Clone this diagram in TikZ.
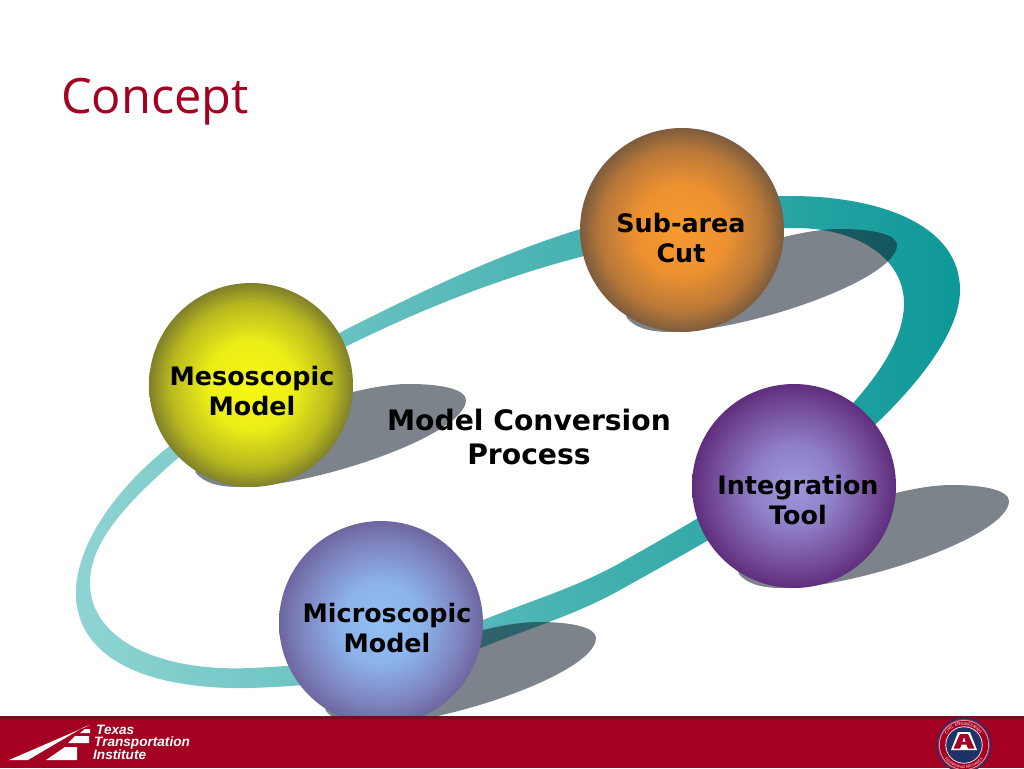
\documentclass[tikz,border=0pt]{standalone}
\usepackage{fontspec}
\setmainfont{DejaVu Sans}
\newfontfamily\titlefont{Open Sans}
\newfontfamily\logofont{Liberation Sans}
\usetikzlibrary{decorations.text}
\definecolor{brandred}{HTML}{A30022}
\definecolor{branddark}{HTML}{7A0A20}
\definecolor{ringlight}{HTML}{8FD4D2}
\definecolor{ringdark}{HTML}{0E9898}
\definecolor{shadowink}{RGB}{20,30,45}
\definecolor{sealnavy}{HTML}{1F3268}
\definecolor{sealpink}{HTML}{E8506A}
\pgfdeclareradialshading{orangeball}{\pgfpoint{0bp}{0bp}}{rgb(0bp)=(0.97,0.60,0.18);rgb(11bp)=(0.93,0.57,0.19);rgb(20bp)=(0.72,0.47,0.22);rgb(25bp)=(0.49,0.36,0.24);rgb(50bp)=(0.49,0.36,0.24)}
\pgfdeclareradialshading{yellowball}{\pgfpoint{0bp}{0bp}}{rgb(0bp)=(0.97,0.97,0.07);rgb(11bp)=(0.92,0.93,0.09);rgb(20bp)=(0.72,0.72,0.12);rgb(25bp)=(0.50,0.50,0.17);rgb(50bp)=(0.50,0.50,0.17)}
\pgfdeclareradialshading{purpleball}{\pgfpoint{0bp}{0bp}}{rgb(0bp)=(0.62,0.60,0.86);rgb(10bp)=(0.56,0.50,0.78);rgb(20bp)=(0.45,0.29,0.59);rgb(25bp)=(0.37,0.18,0.49);rgb(50bp)=(0.37,0.18,0.49)}
\pgfdeclareradialshading{blueball}{\pgfpoint{0bp}{0bp}}{rgb(0bp)=(0.57,0.75,0.96);rgb(10bp)=(0.55,0.70,0.92);rgb(20bp)=(0.49,0.51,0.74);rgb(25bp)=(0.43,0.40,0.63);rgb(50bp)=(0.43,0.40,0.63)}
\tikzset{
  ball/.style={circle,minimum size=204pt,inner sep=0pt},
  balltext/.style={align=center,font=\fontsize{25.4}{30.5}\selectfont\bfseries,text=black},
  castshadow/.style={fill=shadowink,fill opacity=.55},
  logotext/.style={anchor=west,inner sep=0pt,text=white,font=\logofont\fontsize{13.6}{15}\selectfont\bfseries\itshape},
}
\newcommand{\castshadowat}[2]{%
  \fill[castshadow,shift={(#1,#2)}] (627,318) .. controls (635,328) and (650,332) .. (670,332)
    .. controls (745,332) and (897,280) .. (897,245)
    .. controls (897,235) and (875,229) .. (840,229)
    .. controls (760,229) and (615,300) .. (627,318) -- cycle;}
\begin{document}
\begin{tikzpicture}[x=1pt,y=-1pt]
\useasboundingbox (0,0) rectangle (1024,768);
\fill[white] (0,0) rectangle (1024,768);
% ring
\shade[even odd rule,left color=ringlight,right color=ringdark]
  (345,330) .. controls (480,262) and (620,196) .. (790,196)
  .. controls (880,196) and (960,225) .. (960,290)
  .. controls (960,340) and (900,405) .. (850,447)
  .. controls (800,490) and (690,551) .. (620,590)
  .. controls (575,615) and (530,628) .. (483,647)
  .. controls (420,672) and (340,685) .. (250,688)
  .. controls (150,690) and (76,660) .. (76,593)
  .. controls (76,545) and (115,490) .. (167,448)
  .. controls (220,405) and (290,360) .. (345,330) -- cycle
  (345,347) .. controls (460,290) and (620,228) .. (795,228)
  .. controls (860,228) and (905,260) .. (904,305)
  .. controls (903,345) and (870,385) .. (845,412)
  .. controls (800,460) and (700,518) .. (620,563)
  .. controls (575,588) and (530,601) .. (483,620)
  .. controls (420,646) and (340,665) .. (250,668)
  .. controls (160,672) and (90,640) .. (90,583)
  .. controls (90,540) and (130,500) .. (178,458)
  .. controls (230,415) and (290,375) .. (345,347) -- cycle;
% shadows
\castshadowat{0}{0}
\castshadowat{-431}{155}
\castshadowat{112}{256}
\castshadowat{-301}{393}
% spheres
\node[ball,shading=orangeball] (subarea) at (682,230) {};
\node[ball,shading=yellowball] (meso) at (251,385) {};
\node[ball,shading=purpleball] (integ) at (794,486) {};
\node[ball,shading=blueball] (micro) at (381,623) {};
\node[balltext] (subareaT) at (681,238) {Sub-area\\Cut};
\node[balltext] (mesoT) at (252,391) {Mesoscopic\\Model};
\node[balltext] (integT) at (798,500) {Integration\\Tool};
\node[balltext] (microT) at (387,628) {Microscopic\\Model};
\node[align=center,font=\fontsize{28.2}{34}\selectfont\bfseries] (centerT) at (529,437) {Model Conversion\\Process};
% title
\node[anchor=west,inner sep=0pt,text=brandred,font=\titlefont\fontsize{48.7}{60}\selectfont] (title) at (61,102) {Concept};
% footer
\fill[brandred] (0,716) rectangle (1024,768);
\fill[branddark] (0,716) rectangle (1024,719);
% TTI logo
\fill[white] (9,760) -- (28,760) -- (84,727) -- (90,725) -- cycle;
\fill[white] (46,760) -- (77,760) -- (77,747) -- (65,747) -- cycle;
\fill[white] (68,743) -- (89,743) -- (89,736) -- (75,736) -- cycle;
\fill[white] (80,733) -- (90,733) -- (90,729) -- (85,729) -- cycle;
\node[logotext] (tti1) at (96,730) {Texas};
\node[logotext] (tti2) at (94,742.5) {Transportation};
\node[logotext] (tti3) at (93,755) {Institute};
% seal
\fill[sealnavy] (964,745) circle (27.5);
\fill[brandred!85!white] (964,745) circle (26);
\fill[sealpink!55!white] (964,745) circle (25);
\fill[brandred] (964,745) circle (24.2);
\fill[white] (964,745) circle (18.6);
\fill[sealnavy] (964,745) circle (17.8);
\fill[white] (958,732) -- (970,732) -- (977,750) -- (951,750) -- cycle;
\fill[brandred,even odd rule] (960,734) -- (968,734) -- (974.5,748.5) -- (968,748.5) -- (966.5,744.5) -- (961.5,744.5) -- (960,748.5) -- (953.5,748.5) -- cycle
  (964,737) -- (962.3,741.8) -- (965.7,741.8) -- cycle;
\path[postaction={decorate,decoration={text along path,text align=center,text={|\fontsize{4}{5}\selectfont\color{white}|CIVIL ENGINEERING}}}]
  (944.5,752) arc[start angle=-200,end angle=20,radius=20];
\path[postaction={decorate,decoration={text along path,text align=center,text={|\fontsize{3.3}{5}\selectfont\color{white}|ENGINEERING MECHANICS}}}]
  (941.3,751) arc[start angle=-195,end angle=-345,radius=23.5];
\end{tikzpicture}
\end{document}
